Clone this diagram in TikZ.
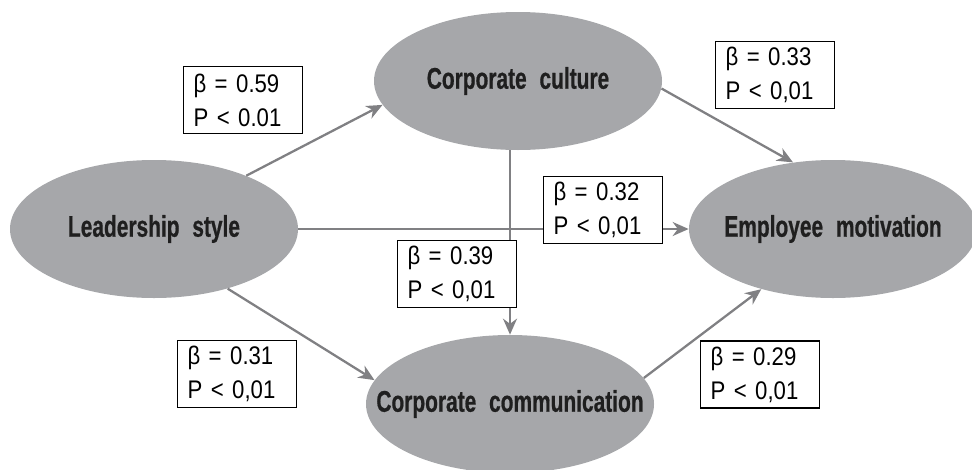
\documentclass[tikz,border=0pt]{standalone}
\usepackage{fontspec}
\setmainfont{Liberation Sans}
\newfontfamily\ellfont[FakeStretch=0.7,WordSpace=2.2,BoldFeatures={FakeBold=0.6}]{Liberation Sans}
\newfontfamily\coeffont[FakeStretch=0.87,WordSpace=3.2]{Liberation Sans}
\usetikzlibrary{shapes,arrows.meta}
\definecolor{ellgray}{RGB}{166,167,170}
\definecolor{arrgray}{RGB}{128,128,131}

\begin{document}
\begin{tikzpicture}[
  factor/.style={ellipse, fill=ellgray, minimum width=5.76cm, minimum height=2.76cm, inner xsep=-1.5cm, inner ysep=0pt,
    font=\ellfont\bfseries\fontsize{17}{19}\selectfont, text=black!88},
  link/.style={arrgray, line width=1.3pt, -{Stealth[length=3.2mm,width=2.8mm]}},
  coef/.style={draw, fill=white, line width=0.7pt, text width=1.98cm, inner xsep=0.2cm, inner ysep=0pt,
    minimum height=1.34cm, align=left, font=\coeffont\fontsize{14.5}{19.3}\selectfont}
  ]

  \clip (0,0) rectangle (19.44,-9.38);

  \node (ls) [factor] at (3.08,-4.58) {Leadership style};
  \node (cc) [factor] at (10.36,-1.62) {Corporate culture};
  \node (em) [factor] at (16.66,-4.58) {Employee motivation};
  \node (cm) [factor] at (10.2,-8.08) {Corporate communication};

  \draw[link] (ls.30) -- (cc.190);
  \draw[link] (cc.-3) -- (em.121);
  \draw[link] (ls) -- (em);
  \draw[link] (cc.south -| cm.north) -- (cm.north);
  \draw[link] (ls.-39) -- (cm.170);
  \draw[link] (cm.11) -- (em.220);

  \node (b1) [coef] at (4.86,-2.0) {β = 0.59\\P < 0.01};
  \node (b2) [coef] at (15.5,-1.5) {β = 0.33\\P < 0,01};
  \node (b3) [coef] at (12.06,-4.2) {β = 0.32\\P < 0,01};
  \node (b4) [coef] at (9.14,-5.48) {β = 0.39\\P < 0,01};
  \node (b5) [coef] at (4.74,-7.48) {β = 0.31\\P < 0,01};
  \node (b6) [coef] at (15.2,-7.49) {β = 0.29\\P < 0,01};

\end{tikzpicture}
\end{document}
